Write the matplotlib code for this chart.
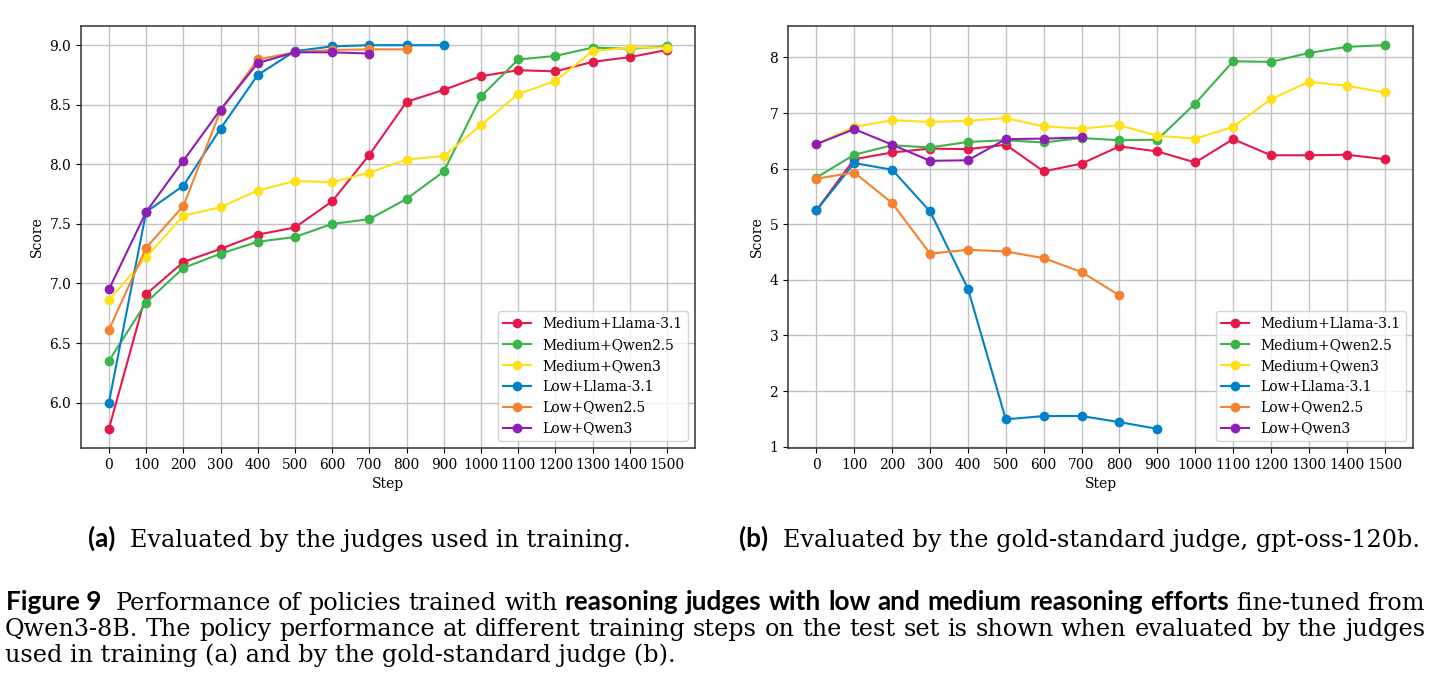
""" Score over training steps for low / medium reasoning-effort judges (Figure 9). """

import matplotlib
matplotlib.use('Agg')
import matplotlib.pyplot as plt
from matplotlib.ticker import MultipleLocator
from matplotlib.transforms import IdentityTransform

# ---- data -----------------------------------------------------------------
steps_full = [0, 100, 200, 300, 400, 500, 600, 700, 800, 900, 1000, 1100, 1200, 1300, 1400, 1500]
steps_low_llama = steps_full[:10]
steps_low_qwen25 = steps_full[:9]
steps_low_qwen3 = steps_full[:8]

labels = ['Medium+Llama-3.1', 'Medium+Qwen2.5', 'Medium+Qwen3',
          'Low+Llama-3.1', 'Low+Qwen2.5', 'Low+Qwen3']
colors = ['#e6194b', '#3cb44b', '#ffe119', '#0082c8', '#f58231', '#911eb4']

# (a) judges used in training
med_llama_a = [5.78, 6.91, 7.18, 7.29, 7.41, 7.47, 7.69, 8.08, 8.525, 8.625, 8.74, 8.79, 8.78, 8.86, 8.90, 8.96]
med_qwen25_a = [6.35, 6.84, 7.13, 7.25, 7.35, 7.39, 7.50, 7.54, 7.71, 7.94, 8.57, 8.88, 8.91, 8.98, 8.97, 8.99]
med_qwen3_a = [6.86, 7.22, 7.57, 7.64, 7.78, 7.86, 7.85, 7.93, 8.04, 8.07, 8.33, 8.59, 8.70, 8.95, 8.98, 8.98]
low_llama_a = [6.00, 7.60, 7.82, 8.30, 8.75, 8.95, 8.99, 9.00, 9.00, 9.00]
low_qwen25_a = [6.61, 7.30, 7.65, 8.45, 8.88, 8.94, 8.96, 8.965, 8.965]
low_qwen3_a = [6.95, 7.60, 8.03, 8.46, 8.85, 8.94, 8.94, 8.93]

# (b) gold-standard judge
med_llama_b = [5.25, 6.17, 6.29, 6.36, 6.35, 6.43, 5.95, 6.09, 6.40, 6.31, 6.11, 6.53, 6.24, 6.24, 6.25, 6.17]
med_qwen25_b = [5.84, 6.25, 6.42, 6.38, 6.48, 6.51, 6.47, 6.55, 6.51, 6.52, 7.17, 7.93, 7.92, 8.08, 8.19, 8.22]
med_qwen3_b = [6.44, 6.75, 6.87, 6.84, 6.86, 6.91, 6.76, 6.72, 6.78, 6.59, 6.54, 6.75, 7.25, 7.56, 7.49, 7.37]
low_llama_b = [5.25, 6.10, 5.98, 5.23, 3.84, 1.49, 1.55, 1.55, 1.44, 1.32]
low_qwen25_b = [5.82, 5.93, 5.38, 4.47, 4.54, 4.51, 4.39, 4.14, 3.72]
low_qwen3_b = [6.44, 6.71, 6.43, 6.14, 6.15, 6.53, 6.54, 6.56]

SERIF = 'DejaVu Serif'
SANS = 'Lato'


def plot_panel(ax, series, y_step):
    for (steps, values), label, color in zip(series, labels, colors):
        ax.plot(steps, values, '-o', color=color, lw=1.5, ms=6, label=label)
    ax.set_xticks(steps_full)
    ax.yaxis.set_major_locator(MultipleLocator(y_step))
    ax.grid(True, color='#c2c2c2', lw=1.0)
    for sp in ax.spines.values():
        sp.set_color('#333333')
        sp.set_linewidth(1.1)
    ax.set_xlabel('Step')
    ax.set_ylabel('Score')
    ax.legend(loc='lower right')


def text_width(fig, renderer, s, **props):
    t = fig.text(0, 0, s, transform=IdentityTransform(), **props)
    w = t.get_window_extent(renderer=renderer).width
    t.remove()
    return w


def draw_tokens(fig, renderer, tokens, x0, y, width=None, gap=0.0):
    widths = [text_width(fig, renderer, s, **p) for s, p in tokens]
    if width is not None and len(tokens) > 1:
        gap = (width - sum(widths)) / (len(tokens) - 1)
    x = x0
    for (s, p), w in zip(tokens, widths):
        fig.text(x, y, s, transform=IdentityTransform(), ha='left', va='baseline', **p)
        x += w + gap
    return x - gap


def main():
    plt.rcParams['font.family'] = 'DejaVu Serif'
    plt.rcParams['font.size'] = 10

    W, H = 1442, 697
    fig = plt.figure(figsize=(W / 100, H / 100), dpi=100)
    ax_a = fig.add_axes([81 / W, (H - 448) / H, (695 - 81) / W, (448 - 26) / H])
    ax_b = fig.add_axes([788 / W, (H - 448) / H, (1413 - 788) / W, (448 - 26) / H])

    plot_panel(ax_a, [(steps_full, med_llama_a), (steps_full, med_qwen25_a), (steps_full, med_qwen3_a),
                      (steps_low_llama, low_llama_a), (steps_low_qwen25, low_qwen25_a),
                      (steps_low_qwen3, low_qwen3_a)], 0.5)
    plot_panel(ax_b, [(steps_full, med_llama_b), (steps_full, med_qwen25_b), (steps_full, med_qwen3_b),
                      (steps_low_llama, low_llama_b), (steps_low_qwen25, low_qwen25_b),
                      (steps_low_qwen3, low_qwen3_b)], 1)

    # ---- captions (pixel coordinates, origin bottom-left) ----
    r = fig.canvas.get_renderer()
    sub_a = 'Evaluated by the judges used in training.'
    fs_serif = 20 * 499 / text_width(fig, r, sub_a, fontsize=20, family=SERIF)
    fs_bold = 20 * 95 / text_width(fig, r, 'Figure 9', fontsize=20, family=SANS, weight='bold')
    serif = dict(fontsize=fs_serif, family=SERIF)
    bold = dict(fontsize=fs_bold, family=SANS, weight='bold')

    for tag, txt, center in [('(a)', sub_a, 359.5),
                             ('(b)', 'Evaluated by the gold-standard judge, gpt-oss-120b.', 1079.5)]:
        total = text_width(fig, r, tag, **bold) + 14 + text_width(fig, r, txt, **serif)
        draw_tokens(fig, r, [(tag, bold), (txt, serif)], center - total / 2, H - 547, gap=14)

    end = draw_tokens(fig, r, [('Figure 9', bold)], 6, H - 610)
    line1 = ([(w, serif) for w in 'Performance of policies trained with'.split()]
             + [(w, bold) for w in 'reasoning judges with low and medium reasoning efforts'.split()]
             + [(w, serif) for w in 'fine-tuned from'.split()])
    draw_tokens(fig, r, line1, end + 14, H - 610, width=1425 - end - 14)
    line2 = [(w, serif) for w in ('Qwen3-8B. The policy performance at different training steps on the '
                                  'test set is shown when evaluated by the judges').split()]
    draw_tokens(fig, r, line2, 5, H - 636, width=1425 - 5)
    draw_tokens(fig, r, [('used in training (a) and by the gold-standard judge (b).', serif)], 5, H - 662)

    fig.savefig('out.png', dpi=100)


if __name__ == "__main__":
    main()
